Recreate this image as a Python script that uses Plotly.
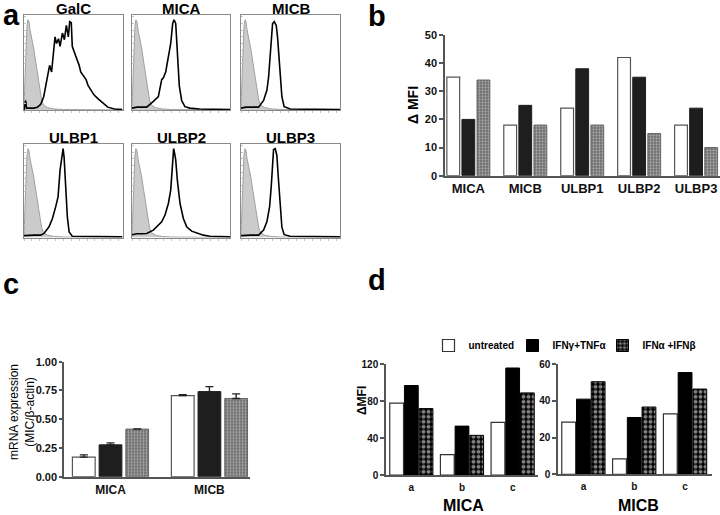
import plotly.graph_objects as go

W, H = 720, 515
def fx(px): return px / W
def fy(py): return 1 - py / H

FONT = "Liberation Sans, Arial, sans-serif"

# ---------------- Panel a: flow cytometry histograms (x: % of axis, y: % of max) -------------
hist_titles = ["GalC", "MICA", "MICB", "ULBP1", "ULBP2", "ULBP3"]
iso_x = [0, 1, 2, 3, 4, 5, 6, 8, 10, 12, 14, 16, 18, 20, 24, 30, 40, 100]
iso_y = [3, 30, 70, 88, 95, 93, 85, 76, 64, 50, 35, 20, 10, 5, 2.5, 1.2, 0.5, 0]

galc_x = [0, 1.7, 2.5, 5, 10, 13.6, 17, 20, 24, 26, 28, 30, 31.5, 33, 35, 36.6, 39, 41, 43, 45,
          46.4, 48, 49, 51, 53.6, 56, 57.6, 60, 63, 65, 68, 71, 75, 78, 81, 85, 92, 100]
galc_y = [0, 10, 2, 2, 2, 3, 6, 14, 35, 47, 40, 63, 77, 70, 75, 67, 81, 74, 89, 77,
          93, 92, 67, 61, 54, 47, 40, 37, 32, 26, 21, 16, 12, 9, 7, 3, 1, 0.5]
mica_x = [0, 5, 10, 15, 21.8, 26.9, 30.3, 32, 34.4, 37, 39.5, 41.5, 42.9, 44.6, 46.3, 48.3, 50.7, 54, 59, 69, 100]
mica_y = [2, 3, 3, 3, 9, 14, 32, 34, 40, 56, 70, 91, 95, 91, 56, 25, 10, 3.5, 2, 1, 0.5]
micb_x = [0, 5, 10, 17.8, 22.8, 26.2, 27.9, 30.2, 31.9, 33.6, 35.6, 36.9, 38.9, 41.3, 43.6, 49.7, 100]
micb_y = [2, 3, 3, 3, 10, 21, 35, 70, 91, 93, 89, 77, 45, 14, 3.5, 1, 0.5]
ulbp1_x = [0, 5, 10, 17, 20.3, 25.4, 28.8, 32.2, 34.6, 36.6, 38.3, 39.7, 40.7, 42.4, 44, 45.8, 49, 100]
ulbp1_y = [2, 2.5, 2.5, 2.5, 4.3, 11.4, 20, 33, 43.6, 72, 86, 95, 86, 54, 22, 6, 1.4, 0.7]
ulbp2_x = [0, 5, 10, 15, 21.8, 26.9, 30.3, 33.7, 37.1, 39.5, 41.2, 42.5, 43.5, 44.6, 46.3, 49,
           52.4, 55.8, 60.9, 67.7, 72.8, 79.6, 100]
ulbp2_y = [3, 4, 4, 4.3, 7.9, 13.2, 16.8, 24, 36.4, 50.7, 72, 95, 90, 83, 61, 36.4,
           20.4, 11.4, 6.8, 4.3, 2.5, 1.4, 0.7]
ulbp3_x = [0, 5, 10, 17.8, 22.8, 26.2, 28.9, 30.5, 31.9, 32.9, 34.6, 36.2, 37.9, 39.6, 41.3, 43.6, 49.7, 100]
ulbp3_y = [2, 2.5, 2.5, 2.5, 8, 17, 33, 54, 76, 94, 95, 88, 61, 33, 11, 3, 1.4, 0.7]

# ---------------- Panel b -------------
b_cats = ["MICA", "MICB", "ULBP1", "ULBP2", "ULBP3"]
b_untreated = [35, 18, 24, 42, 18]
b_ifng_tnfa = [20, 25, 38, 35, 24]
b_ifna_ifnb = [34, 18, 18, 15, 10]

# ---------------- Panel c -------------
c_cats = ["MICA", "MICB"]
c_untreated = [0.17, 0.705]
c_ifng_tnfa = [0.277, 0.74]
c_ifna_ifnb = [0.414, 0.68]
c_err_untreated = [0.02, 0.008]
c_err_ifng_tnfa = [0.017, 0.043]
c_err_ifna_ifnb = [0.002, 0.04]

# ---------------- Panel d -------------
d_cats = ["a", "b", "c"]
d_mica_untreated = [78, 22, 57]
d_mica_ifng_tnfa = [97, 53, 116]
d_mica_ifna_ifnb = [72, 43, 89]
d_micb_untreated = [28.5, 8.4, 33]
d_micb_ifng_tnfa = [41, 31, 55.5]
d_micb_ifna_ifnb = [50.5, 36.7, 46.5]
legend_names = ["untreated", "IFNγ+TNFα", "IFNα +IFNβ"]

fig = go.Figure()
layout = {}

def axname(n, letter):
    return f"{letter}axis" if n == 1 else f"{letter}axis{n}"
def axref(n, letter):
    return letter if n == 1 else f"{letter}{n}"

# ---- panel a
hist_data = [(galc_x, galc_y), (mica_x, mica_y), (micb_x, micb_y),
             (ulbp1_x, ulbp1_y), (ulbp2_x, ulbp2_y), (ulbp3_x, ulbp3_y)]
boxes_x = [(24, 122.5), (132, 230), (241, 340)]
boxes_y = [(15, 110), (144, 237.5)]
annotations = []
for i, (hx, hy) in enumerate(hist_data):
    r, c = divmod(i, 3)
    n = i + 1
    xa, ya = axref(n, "x"), axref(n, "y")
    fig.add_trace(go.Scatter(x=iso_x, y=iso_y, xaxis=xa, yaxis=ya, mode="lines", fill="tozeroy",
                             fillcolor="#cbcbcb", line=dict(color="#a0a0a0", width=1),
                             showlegend=False, hoverinfo="skip"))
    fig.add_trace(go.Scatter(x=hx, y=hy, xaxis=xa, yaxis=ya, mode="lines",
                             line=dict(color="black", width=1.6), showlegend=False, hoverinfo="skip"))
    x0, x1 = boxes_x[c]
    y0, y1 = boxes_y[r]
    common = dict(showline=True, mirror=True, linecolor="#8a8a8a", linewidth=1, showgrid=False,
                  zeroline=False, showticklabels=False, ticklen=2, tickcolor="#c4c4c4", range=[0, 100])
    layout[axname(n, "x")] = dict(domain=[fx(x0), fx(x1)], anchor=ya, ticks="outside", dtick=8, **common)
    layout[axname(n, "y")] = dict(domain=[fy(y1), fy(y0)], anchor=xa, ticks="inside", dtick=7, **common)
    annotations.append(dict(text=hist_titles[i], x=fx((x0 + x1) / 2), y=fy(y0 - 7), xref="paper", yref="paper",
                            showarrow=False, xanchor="center", yanchor="middle",
                            font=dict(family=FONT, size=15, color="black", weight="bold")))

# ---- bar helpers
def bar_styles(kind):
    if kind == "fine":
        return [
            dict(color="white", line=dict(color="#555", width=1.2)),
            dict(color="#1e1e1e", line=dict(color="#1e1e1e", width=1)),
            dict(color="#777", line=dict(color="#666", width=1),
                 pattern=dict(shape=".", fgcolor="#e2e2e2", bgcolor="#6a6a6a", size=3, solidity=0.45)),
        ]
    return [
        dict(color="white", line=dict(color="#333", width=1.2)),
        dict(color="black", line=dict(color="black", width=1)),
        dict(color="black", line=dict(color="black", width=1),
             pattern=dict(shape=".", fgcolor="white", bgcolor="black", size=5, solidity=0.5)),
    ]

legend_ids = ["legend", "legend2", "legend3"]

def add_group(n, cats, series, slot, width, kind, errs=None, legend=False):
    xa, ya = axref(n, "x"), axref(n, "y")
    styles = bar_styles(kind)
    for k, vals in enumerate(series):
        off = (k - 1) * slot - width / 2
        err = None
        if errs is not None:
            err = dict(type="data", symmetric=False, array=errs[k], arrayminus=[0] * len(vals),
                       color="#222", thickness=1.4, width=4)
        fig.add_trace(go.Bar(x=cats, y=vals, xaxis=xa, yaxis=ya, offset=off, width=width,
                             marker=styles[k], error_y=err, name=legend_names[k],
                             showlegend=legend, legend=legend_ids[k], hoverinfo="skip"))

AXC = "#555"
def bar_axes(n, xdom, ydom, xrange, yrange, dtick, yfs, xfs, xstand, ticklen=4, tickformat=None):
    xa, ya = axref(n, "x"), axref(n, "y")
    layout[axname(n, "x")] = dict(domain=[fx(xdom[0]), fx(xdom[1])], anchor=ya, type="category",
                                  range=xrange, showline=True, linecolor=AXC, linewidth=1.5,
                                  ticks="", ticklen=0, ticklabelstandoff=xstand,
                                  showgrid=False, zeroline=False,
                                  tickfont=dict(family=FONT, size=xfs, color="#111", weight="bold"))
    yd = dict(domain=[fy(ydom[1]), fy(ydom[0])], anchor=xa, range=yrange, dtick=dtick,
              showline=True, linecolor=AXC, linewidth=1.5, ticks="outside", ticklen=ticklen,
              tickwidth=1.5, tickcolor=AXC, showgrid=False, zeroline=False,
              tickfont=dict(family=FONT, size=yfs, color="#111", weight="bold"))
    if tickformat:
        yd["tickformat"] = tickformat
    layout[axname(n, "y")] = yd

# panel b
add_group(7, b_cats, [b_untreated, b_ifng_tnfa, b_ifna_ifnb], 0.265, 0.225, "fine")
bar_axes(7, (445, 720), (35, 175.7), [-0.41, 4.42], [0, 50], 10, 11, 13, 0)
# panel c
add_group(8, c_cats, [c_untreated, c_ifng_tnfa, c_ifna_ifnb], 0.27, 0.23, "fine",
          errs=[c_err_untreated, c_err_ifng_tnfa, c_err_ifna_ifnb])
bar_axes(8, (64, 250), (361.7, 476.7), [-0.47, 1.41], [0, 1], 0.25, 11, 12, 1, ticklen=3, tickformat=".2f")
# panel d
add_group(9, d_cats, [d_mica_untreated, d_mica_ifng_tnfa, d_mica_ifna_ifnb], 0.29, 0.272, "bold", legend=True)
bar_axes(9, (386, 538), (364.3, 475), [-0.5, 2.5], [0, 120], 40, 10, 10, 2)
add_group(10, d_cats, [d_micb_untreated, d_micb_ifng_tnfa, d_micb_ifna_ifnb], 0.29, 0.272, "bold")
bar_axes(10, (558, 712), (364.3, 474.3), [-0.5, 2.53], [0, 60], 20, 10, 10, 2)

def ann(text, px, py, size, bold=True, angle=0, xanchor="center", yanchor="middle"):
    annotations.append(dict(text=text, x=fx(px), y=fy(py), xref="paper", yref="paper", showarrow=False,
                            xanchor=xanchor, yanchor=yanchor, textangle=angle,
                            font=dict(family=FONT, size=size, color="black",
                                      weight="bold" if bold else "normal")))

# panel letters
ann("a", 0.5, 15, 29, xanchor="left")
ann("b", 377, 16, 29)
ann("c", 0.5, 284, 29, xanchor="left")
ann("d", 377, 280, 29)
# axis titles
ann("Δ MFI", 413, 105, 14, angle=-90)
ann("mRNA expression<br>(MIC/β-actin)", 22, 412, 12, bold=False, angle=-90)
ann("ΔMFI", 362, 401, 12, angle=-90)
ann("MICA", 463, 505, 16)
ann("MICB", 638, 505, 16)

legend_font = dict(family=FONT, size=10, color="black", weight="bold")
legend_x = [428.5, 512.5, 602.5]
for k, lid in enumerate(legend_ids):
    layout[lid] = dict(orientation="h", x=fx(legend_x[k]), y=fy(331), xanchor="left", yanchor="top",
                       font=legend_font, itemwidth=30, bgcolor="rgba(0,0,0,0)")

layout.update(dict(
    width=W, height=H, margin=dict(l=0, r=0, t=0, b=0, autoexpand=False),
    paper_bgcolor="white", plot_bgcolor="white", barmode="overlay",
    annotations=annotations,
    font=dict(family=FONT),
))
fig.update_layout(**layout)
fig.write_html("out.html", config={"displayModeBar": False},
               post_script="document.body.style.margin='0';document.body.style.overflow='hidden';")
